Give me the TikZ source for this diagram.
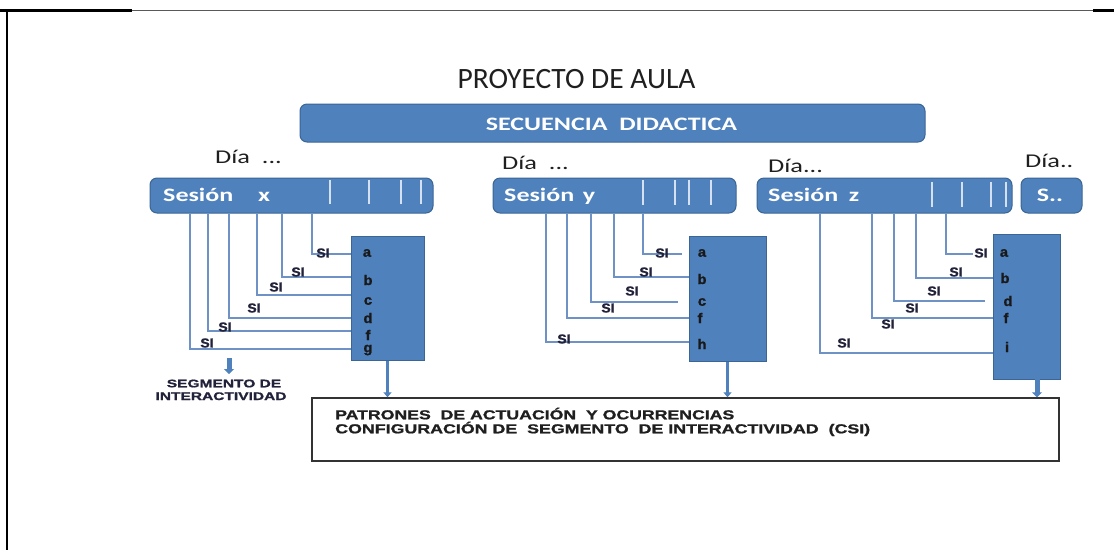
\documentclass[tikz,border=0pt]{standalone}
\usepackage{fontspec}
\setmainfont{Carlito}
\newfontfamily\arialf[BoldFeatures={FakeBold=1.2}]{Liberation Sans}
\usepackage{graphicx}
\usetikzlibrary{arrows.meta}
\definecolor{boxblue}{HTML}{4F81BD}
\definecolor{boxedge}{HTML}{3A6594}
\definecolor{lineblue}{HTML}{6E92C6}
\definecolor{barcol}{HTML}{D5E0F0}
\definecolor{sicol}{HTML}{22223A}
\newcommand{\hsc}[2]{\scalebox{#1}[1]{#2}}
\begin{document}
\begin{tikzpicture}[x=1pt,y=-1pt,
  rbox/.style={fill=boxblue, draw=boxedge, line width=1pt, rounded corners=7pt, inner sep=0pt},
  sqbox/.style={fill=boxblue, draw=boxedge, line width=1pt, inner sep=0pt},
  conn/.style={draw=lineblue, line width=1.6pt},
  bar/.style={draw=barcol, line width=1.5pt},
  silbl/.style={inner sep=0pt, text=sicol, font=\arialf\bfseries\fontsize{13}{13}\selectfont},
  letr/.style={inner sep=0pt, text=black!90, font=\arialf\bfseries\fontsize{14}{14}\selectfont},
  wtxt/.style={inner sep=0pt, text=white, font=\bfseries\fontsize{19}{19}\selectfont},
  diatxt/.style={inner sep=0pt, text=black!88, font=\fontsize{19.5}{19.5}\selectfont},
  btxt/.style={inner sep=0pt, text=black!88, font=\arialf\bfseries\fontsize{13}{13}\selectfont},
  segtxt/.style={inner sep=0pt, text=sicol, font=\arialf\bfseries\fontsize{11}{11}\selectfont},
  arr/.style={draw=boxblue, line width=2.6pt, -{Triangle[width=8pt,length=5pt]}},
  bigarr/.style={draw=boxblue, line width=5pt, -{Triangle[width=10pt,length=5pt]}},
]
\useasboundingbox (0,0) rectangle (1114,550);
% page frame
\draw[black!65, line width=1pt] (0,10.5) -- (1114,10.5);
\draw[black, line width=2.5pt] (0,10.5) -- (132,10.5);
\draw[black, line width=2.5pt] (1093,10.5) -- (1114,10.5);
\draw[black, line width=1.3pt] (7,10) -- (7,550);

% title and sequence
\node[inner sep=0pt, text=black!88, font=\fontsize{29.5}{29.5}\selectfont, anchor=base] (title) at (576.5,88) {PROYECTO DE AULA};
\node[rbox, minimum width=625pt, minimum height=38pt] (seq) at (612.5,123) {};
\node[wtxt, anchor=base] (seqt) at (611.5,130) {\hsc{1.37}{SECUENCIA\ \ DIDACTICA}};

% day labels
\node[diatxt, anchor=base west] (d1) at (215,163.3) {\hsc{1.35}{Día\ \ ...}};
\node[diatxt, anchor=base west] (d2) at (502,169) {\hsc{1.35}{Día\ \ ...}};
\node[diatxt, anchor=base west] (d3) at (768,172.5) {\hsc{1.35}{Día...}};
\node[diatxt, anchor=base west] (d4) at (1025,167) {\hsc{1.35}{Día..}};

% session boxes
\node[rbox, minimum width=283pt, minimum height=35pt] (sx) at (291.5,195.5) {};
\node[rbox, minimum width=243pt, minimum height=35pt] (sy) at (614.5,195.5) {};
\node[rbox, minimum width=255pt, minimum height=35pt] (sz) at (884.5,195.5) {};
\node[rbox, minimum width=61pt, minimum height=35pt] (ss) at (1051.5,195.5) {};
\node[wtxt, anchor=base west] (sxt) at (163,201.5) {\hsc{1.37}{Sesión}};
\node[wtxt, anchor=base] (sxv) at (264,201.5) {\hsc{1.37}{x}};
\node[wtxt, anchor=base west] (syt) at (504,201.5) {\hsc{1.37}{Sesión}};
\node[wtxt, anchor=base] (syv) at (589,201.5) {\hsc{1.37}{y}};
\node[wtxt, anchor=base west] (szt) at (768,201) {\hsc{1.37}{Sesión}};
\node[wtxt, anchor=base] (szv) at (854,201) {\hsc{1.37}{z}};
\node[wtxt, anchor=base] (sst) at (1050,201) {\hsc{1.37}{S..}};
\foreach \bx in {330,369,401,421} \draw[bar] (\bx,180) -- (\bx,204);
\foreach \bx in {643,675,689,711} \draw[bar] (\bx,180) -- (\bx,205);
\foreach \bx in {932,962,991,1006} \draw[bar] (\bx,182) -- (\bx,207);

% connectors, group x
\foreach \xx/\yy/\ee [count=\i] in {312/254/351, 282/277/351, 257/295/351, 229/318/351, 208/331/351, 190/349/351} {
  \coordinate (xk\i) at (\xx,\yy);
  \coordinate (xe\i) at (\ee,\yy);
  \draw[conn] (sx.south -| xk\i) -- (xk\i) -- (xe\i);
}
% group y
\foreach \xx/\yy/\ee [count=\i] in {643/254/682, 614/277/689, 591/302/678, 567/318/689, 546/342/689} {
  \coordinate (yk\i) at (\xx,\yy);
  \coordinate (ye\i) at (\ee,\yy);
  \draw[conn] (sy.south -| yk\i) -- (yk\i) -- (ye\i);
}
% group z
\foreach \xx/\yy/\ee [count=\i] in {946/254/973, 916/278/993, 894/301/985, 872/318/993, 820/353/993} {
  \coordinate (zk\i) at (\xx,\yy);
  \coordinate (ze\i) at (\ee,\yy);
  \draw[conn] (sz.south -| zk\i) -- (zk\i) -- (ze\i);
}

% option boxes
\node[sqbox, minimum width=73pt, minimum height=124pt] (bx) at (387.5,298) {};
\node[sqbox, minimum width=77pt, minimum height=125pt] (by) at (727.5,298.5) {};
\node[sqbox, minimum width=67pt, minimum height=145pt] (bz) at (1026.5,306.5) {};

% SI labels
\foreach \xx/\yy [count=\i] in {323/253, 298/272, 276/287, 254/308, 225/327, 207/343}
  \node[silbl] (sixl\i) at (\xx,\yy) {\hsc{1.08}{SI}};
\foreach \xx/\yy [count=\i] in {662/253, 646/272, 632/291, 608/308, 564/339}
  \node[silbl] (siyl\i) at (\xx,\yy) {\hsc{1.08}{SI}};
\foreach \xx/\yy [count=\i] in {981/253, 956/272, 934/291, 912/308, 888/324, 844/343}
  \node[silbl] (sizl\i) at (\xx,\yy) {\hsc{1.08}{SI}};

% letters
\foreach \xx/\yy/\t [count=\i] in {367/253/a, 368/280/b, 368/301/c, 368/318/d, 368/335/f, 368/350/g}
  \node[letr] (lx\i) at (\xx,\yy) {\hsc{1.05}{\t}};
\foreach \xx/\yy/\t [count=\i] in {702/253/a, 702/279/b, 702/302/c, 700/318/f, 702/344/h}
  \node[letr] (ly\i) at (\xx,\yy) {\hsc{1.05}{\t}};
\foreach \xx/\yy/\t [count=\i] in {1004/253/a, 1005/278/b, 1008/301/d, 1006/318/f, 1007/347/i}
  \node[letr] (lz\i) at (\xx,\yy) {\hsc{1.05}{\t}};

% bottom box
\node[draw=black!80, line width=1.4pt, minimum width=747pt, minimum height=63pt, inner sep=0pt] (bb) at (685.5,429.5) {};
\node[btxt, anchor=base west] (bt1) at (335,419.3) {\hsc{1.36}{PATRONES\ \ DE ACTUACIÓN\ \ Y OCURRENCIAS}};
\node[btxt, anchor=base west] (bt2) at (335,433.3) {\hsc{1.37}{CONFIGURACIÓN DE\ \ SEGMENTO\ \ DE INTERACTIVIDAD\ \ (CSI)}};

% arrows
\draw[arr] (bx.south) -- (bx.south |- bb.north);
\draw[arr] (by.south) -- (by.south |- bb.north);
\coordinate (bza) at (1037,379);
\draw[bigarr] (bza) -- (bza |- bb.north);
\coordinate (sga) at (229,358);
\coordinate (sgb) at (229,374);
\draw[bigarr] (sga) -- (sgb);

% segment label
\node[segtxt, anchor=base] (sg1) at (224,387.3) {\hsc{1.41}{SEGMENTO DE}};
\node[segtxt, anchor=base] (sg2) at (221,400) {\hsc{1.41}{INTERACTIVIDAD}};
\end{tikzpicture}
\end{document}
